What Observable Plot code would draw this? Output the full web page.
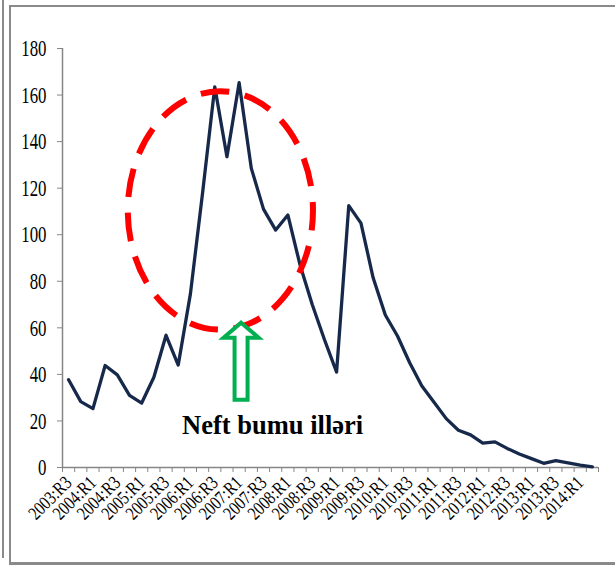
<!DOCTYPE html>
<html><head><meta charset="utf-8">
<script src="https://cdn.jsdelivr.net/npm/d3@7"></script>
<script src="https://cdn.jsdelivr.net/npm/@observablehq/plot@0.6"></script>
<style>
html,body{margin:0;padding:0;background:#fff;overflow:hidden;}
#wrap{position:relative;width:615px;height:566px;overflow:hidden;background:#fff;}
#wrap svg{position:absolute;left:0;top:0;}
.frame{position:absolute;background:#8a8a8a;}
</style></head><body>
<div id="wrap">
 <div class="frame" style="left:2px;top:0;width:2px;height:558px"></div>
 <div class="frame" style="left:9px;top:5px;width:2px;height:559px"></div>
 <div class="frame" style="left:9px;top:5px;width:606px;height:2px"></div>
 <div class="frame" style="left:9px;top:562px;width:606px;height:3px"></div>
</div>
<script>
const quarters = [
  "2003:R3","2003:R4",
  "2004:R1","2004:R2","2004:R3","2004:R4",
  "2005:R1","2005:R2","2005:R3","2005:R4",
  "2006:R1","2006:R2","2006:R3","2006:R4",
  "2007:R1","2007:R2","2007:R3","2007:R4",
  "2008:R1","2008:R2","2008:R3","2008:R4",
  "2009:R1","2009:R2","2009:R3","2009:R4",
  "2010:R1","2010:R2","2010:R3","2010:R4",
  "2011:R1","2011:R2","2011:R3","2011:R4",
  "2012:R1","2012:R2","2012:R3","2012:R4",
  "2013:R1","2013:R2","2013:R3","2013:R4",
  "2014:R1","2014:R2"
];
const values = [
  37.7, 28.3, 25.3, 43.8, 39.8, 31.0, 27.7, 38.8, 56.8, 44.0,
  74.6, 118.0, 163.5, 133.5, 165.3, 128.5, 111.0, 102.0, 108.5, 87.0,
  70.0, 55.0, 41.0, 112.5, 105.0, 81.5, 65.5, 56.5, 45.0, 35.0,
  28.0, 21.0, 16.0, 14.0, 10.5, 11.0, 8.2, 5.8, 3.8, 1.8,
  3.0, 2.0, 1.0, 0.3
];
const yTicks = [0, 20, 40, 60, 80, 100, 120, 140, 160, 180];
const labelledQuarters = ["2003:R3","2004:R1","2004:R3","2005:R1","2005:R3","2006:R1","2006:R3","2007:R1","2007:R3","2008:R1","2008:R3","2009:R1","2009:R3","2010:R1","2010:R3","2011:R1","2011:R3","2012:R1","2012:R3","2013:R1","2013:R3","2014:R1"];
const annotationText = "Neft bumu illəri";
// annotation anchors in data coordinates (category index, value)
const ellipseAnchor = {cx: 12.5, cy: 110.2, rx: 7.6, ry: 51.2};
const arrowTip = {x: 14.2, y: 62};
const textAnchor = {x: 16.75, y: 14.5};

const data = quarters.map((q, i) => ({i, q, v: values[i]}));
const boundaries = d3.range(quarters.length + 1).map(k => k - 0.5);
const labelIdx = labelledQuarters.map(q => quarters.indexOf(q));

const axisGray = "#868686";
const lineColor = "#17294b";
const font = "'Liberation Serif','Times New Roman',serif";

const chart = Plot.plot({
  width: 615, height: 566,
  marginLeft: 62, marginRight: 17, marginTop: 48, marginBottom: 99,
  style: {background: "transparent", fontFamily: font, color: "#000", overflow: "hidden"},
  x: {type: "linear", domain: [-0.5, quarters.length - 0.5], label: null},
  y: {domain: [0, 180], label: null},
  marks: [
    Plot.ruleX([-0.5], {stroke: axisGray, strokeWidth: 1.5}),
    Plot.ruleY([0], {stroke: axisGray, strokeWidth: 1.5}),
    Plot.axisY(yTicks, {tickSize: 5, tickPadding: 11, stroke: axisGray, fill: "#000", fontSize: 24, label: null, tickFormat: d => String(d)}),
    Plot.axisX(boundaries, {tickSize: 5, stroke: axisGray, fill: "#000", label: null, tickFormat: () => ""}),
    Plot.axisX(labelIdx, {tickSize: 0, tickPadding: 12, tickRotate: -45, fill: "#000", fontSize: 19, label: null, tickFormat: i => quarters[i]}),
    Plot.line(data, {x: "i", y: "v", stroke: lineColor, strokeWidth: 3.3, strokeLinejoin: "round", strokeLinecap: "round"}),
    Plot.text([annotationText], {x: textAnchor.x, y: textAnchor.y, text: d => d, fontSize: 26.5, fontWeight: "bold", textAnchor: "middle", lineAnchor: "bottom", fill: "#000"})
  ]
});
document.getElementById("wrap").appendChild(chart);

const xs = chart.scale("x"), ys = chart.scale("y");
const svg = d3.select(chart);
// red dashed ellipse
{
  const cx = xs.apply(ellipseAnchor.cx), cy = ys.apply(ellipseAnchor.cy);
  const rx = Math.abs(xs.apply(ellipseAnchor.cx + ellipseAnchor.rx) - cx);
  const ry = Math.abs(ys.apply(ellipseAnchor.cy + ellipseAnchor.ry) - cy);
  const p = `M${cx},${cy - ry} A${rx},${ry} 0 1 1 ${cx},${cy + ry} A${rx},${ry} 0 1 1 ${cx},${cy - ry} Z`;
  svg.append("path").attr("d", p).attr("fill", "none").attr("stroke", "#ff0000").attr("stroke-width", 6)
    .attr("pathLength", 675).attr("stroke-dasharray", "29 16").attr("stroke-dashoffset", 20);
}
// green hollow arrow
{
  const tx = xs.apply(arrowTip.x), ty = ys.apply(arrowTip.y);
  const hw = 17.5, sw = 6.5, hh = 15, len = 77;
  const pts = [[0,0],[hw,hh],[sw,hh],[sw,len],[-sw,len],[-sw,hh],[-hw,hh]];
  svg.append("path").attr("d", "M" + pts.map(([a,b]) => `${tx+a},${ty+b}`).join("L") + "Z")
    .attr("fill", "#fff").attr("stroke", "#00b050").attr("stroke-width", 4).attr("stroke-linejoin", "miter");
}
// condensed tick labels, as in the reference
svg.selectAll('g[aria-label="y-axis tick label"] text').each(function() {
  const w = this.getComputedTextLength();
  this.setAttribute("textLength", w * 0.7);
  this.setAttribute("lengthAdjust", "spacingAndGlyphs");
});
svg.selectAll('g[aria-label="x-axis tick label"] text').each(function() {
  const w = this.getComputedTextLength();
  if (w > 0) {
    this.setAttribute("textLength", w * 0.8);
    this.setAttribute("lengthAdjust", "spacingAndGlyphs");
  }
});
</script>
</body></html>
